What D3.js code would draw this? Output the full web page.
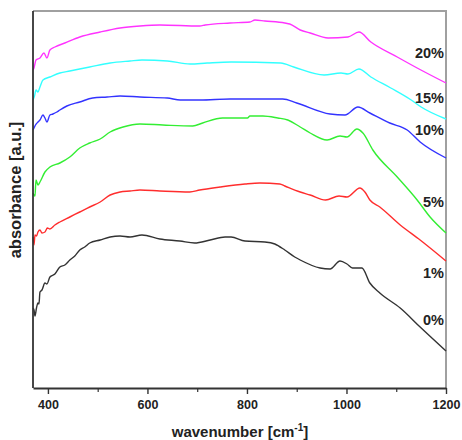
<!DOCTYPE html>
<html>
<head>
<meta charset="utf-8">
<script src="https://cdn.jsdelivr.net/npm/d3@7"></script>
<style>
  body { margin: 0; background: #fff; }
  text { font-family: Arial, "Liberation Sans", sans-serif; }
</style>
</head>
<body>
<svg id="chart" width="462" height="440"></svg>
<script>
// wavenumber [cm-1], absorbance [a.u.] pairs
const s0 = [[370,0.80],[372,0.78],[374,0.72],[377,0.80],[380,0.85],[382,0.84],[384,0.96],[388,0.98],[394,1.05],[398,1.04],[404,1.11],[414,1.14],[424,1.21],[434,1.23],[444,1.28],[454,1.32],[464,1.38],[474,1.41],[484,1.45],[505,1.48],[525,1.51],[545,1.52],[565,1.51],[589,1.53],[625,1.49],[665,1.47],[695,1.45],[726,1.48],[756,1.51],[768,1.51],[796,1.47],[836,1.46],[856,1.44],[876,1.38],[896,1.31],[907,1.28],[947,1.20],[967,1.19],[987,1.27],[1001,1.24],[1012,1.20],[1031,1.20],[1047,1.05],[1067,0.95],[1108,0.80],[1148,0.61],[1200,0.37]];
const s1 = [[370,1.51],[372,1.43],[374,1.53],[377,1.52],[380,1.56],[384,1.58],[388,1.55],[394,1.56],[399,1.60],[404,1.59],[414,1.63],[424,1.66],[444,1.71],[464,1.76],[484,1.81],[505,1.86],[525,1.93],[545,1.96],[565,1.97],[585,1.98],[625,1.97],[685,1.96],[705,1.98],[746,2.01],[796,2.04],[826,2.05],[866,2.04],[876,2.02],[907,1.96],[927,1.93],[958,1.88],[985,1.92],[1001,1.91],[1027,2.00],[1037,1.96],[1047,1.88],[1067,1.81],[1108,1.63],[1148,1.48],[1200,1.27]];
const s5 = [[370,1.95],[372,1.93],[374,1.92],[376,2.08],[380,2.03],[384,2.06],[394,2.16],[404,2.21],[424,2.25],[444,2.31],[464,2.40],[484,2.45],[505,2.49],[525,2.56],[551,2.61],[585,2.64],[631,2.63],[691,2.62],[711,2.65],[751,2.70],[801,2.70],[806,2.72],[832,2.72],[862,2.70],[882,2.68],[907,2.61],[927,2.55],[961,2.48],[987,2.52],[1001,2.51],[1021,2.59],[1033,2.55],[1053,2.38],[1102,2.11],[1142,1.88],[1168,1.71],[1200,1.55]];
const s10 = [[370,2.58],[372,2.60],[375,2.63],[380,2.66],[384,2.68],[390,2.73],[394,2.70],[398,2.66],[404,2.73],[410,2.74],[418,2.76],[424,2.78],[438,2.82],[464,2.86],[490,2.90],[519,2.91],[545,2.92],[585,2.91],[640,2.90],[666,2.88],[706,2.88],[766,2.89],[872,2.89],[900,2.85],[967,2.74],[997,2.73],[1023,2.81],[1047,2.75],[1087,2.65],[1122,2.58],[1148,2.46],[1200,2.30]];
const s15 = [[370,2.88],[373,2.92],[376,2.98],[380,2.96],[384,3.01],[390,3.08],[404,3.11],[424,3.15],[444,3.17],[484,3.21],[525,3.25],[565,3.27],[589,3.28],[640,3.27],[686,3.24],[720,3.25],[768,3.26],[868,3.25],[894,3.21],[955,3.13],[989,3.15],[1003,3.14],[1025,3.19],[1049,3.11],[1089,3.00],[1130,2.88],[1150,2.81],[1200,2.69]];
const s20 = [[370,3.18],[372,3.20],[376,3.28],[384,3.30],[392,3.35],[398,3.30],[404,3.38],[414,3.41],[434,3.45],[464,3.51],[505,3.56],[545,3.60],[585,3.62],[625,3.63],[705,3.62],[716,3.63],[766,3.65],[806,3.66],[816,3.68],[836,3.67],[876,3.65],[886,3.64],[907,3.58],[927,3.55],[963,3.50],[1003,3.51],[1025,3.56],[1049,3.46],[1102,3.31],[1142,3.20],[1200,3.05]];

const seriesNames = ["0%", "1%", "5%", "10%", "15%", "20%"];
const seriesData = [s0, s1, s5, s10, s15, s20];
const seriesColors = ["#333333", "#ff2d2d", "#33ee33", "#3333ff", "#33ffff", "#ff33ff"];
const labelValues = [0.68, 1.15, 1.86, 2.58, 2.90, 3.35];
const xTicks = [400, 600, 800, 1000, 1200];
const xMinorTicks = [500, 700, 900, 1100];

const margin = { left: 33, right: 16, top: 11, bottom: 52 };
const width = 462, height = 440;

const svg = d3.select("#chart");

const x = d3.scaleLinear().domain([370, 1200]).range([margin.left, width - margin.right]);
const y = d3.scaleLinear().domain([0, 3.77]).range([height - margin.bottom, margin.top]);

// frame: top and right in grey
svg.append("path")
  .attr("d", `M${x(370)},${y(3.77)}H${x(1200)}V${y(0)}`)
  .attr("fill", "none")
  .attr("stroke", "#a0a0a0")
  .attr("stroke-width", 2);

// curves
const line = d3.line()
  .x(d => x(d[0]))
  .y(d => y(d[1]))
  .curve(d3.curveMonotoneX);

seriesData.forEach((data, i) => {
  svg.append("path")
    .datum(data)
    .attr("fill", "none")
    .attr("stroke", seriesColors[i])
    .attr("stroke-width", 1.4)
    .attr("d", line);
});

// bottom axis
const xAxis = svg.append("g")
  .attr("transform", `translate(0,${y(0)})`)
  .call(d3.axisBottom(x).tickValues(xTicks).tickFormat(d3.format("d"))
    .tickSize(6).tickSizeOuter(0).tickPadding(6));
xAxis.select(".domain").attr("stroke", "#333").attr("stroke-width", 1.8);
xAxis.selectAll(".tick line").attr("stroke", "#333").attr("stroke-width", 1.4);
xAxis.selectAll(".tick text")
  .attr("fill", "#222")
  .style("font-size", "12.5px")
  .style("font-weight", "bold")
  .style("font-family", "Arial, 'Liberation Sans', sans-serif");

svg.append("g")
  .attr("transform", `translate(0,${y(0)})`)
  .call(d3.axisBottom(x).tickValues(xMinorTicks).tickSize(4).tickFormat(""))
  .call(g => g.select(".domain").remove())
  .selectAll(".tick line").attr("stroke", "#333").attr("stroke-width", 1.2);

// left axis line (no ticks)
svg.append("line")
  .attr("x1", x(370)).attr("x2", x(370))
  .attr("y1", y(0)).attr("y2", y(3.77))
  .attr("stroke", "#333")
  .attr("stroke-width", 1.8);

// series labels
svg.selectAll(".lab")
  .data(seriesNames)
  .join("text")
  .attr("class", "lab")
  .attr("x", x(1200) - 2)
  .attr("y", (d, i) => y(labelValues[i]))
  .attr("dy", "0.35em")
  .attr("text-anchor", "end")
  .attr("fill", "#222")
  .style("font-size", "14.5px")
  .style("font-weight", "bold")
  .text(d => d);

// axis titles
const xt = svg.append("text")
  .attr("x", 240)
  .attr("y", 437)
  .attr("text-anchor", "middle")
  .attr("fill", "#222")
  .style("font-size", "15px")
  .style("font-weight", "bold");
xt.append("tspan").text("wavenumber [cm");
xt.append("tspan").attr("dy", -6).style("font-size", "10px").text("-1");
xt.append("tspan").attr("dy", 6).text("]");

svg.append("text")
  .attr("transform", `translate(21,190) rotate(-90)`)
  .attr("text-anchor", "middle")
  .attr("fill", "#222")
  .style("font-size", "16.5px")
  .style("font-weight", "bold")
  .text("absorbance [a.u.]");
</script>
</body>
</html>
